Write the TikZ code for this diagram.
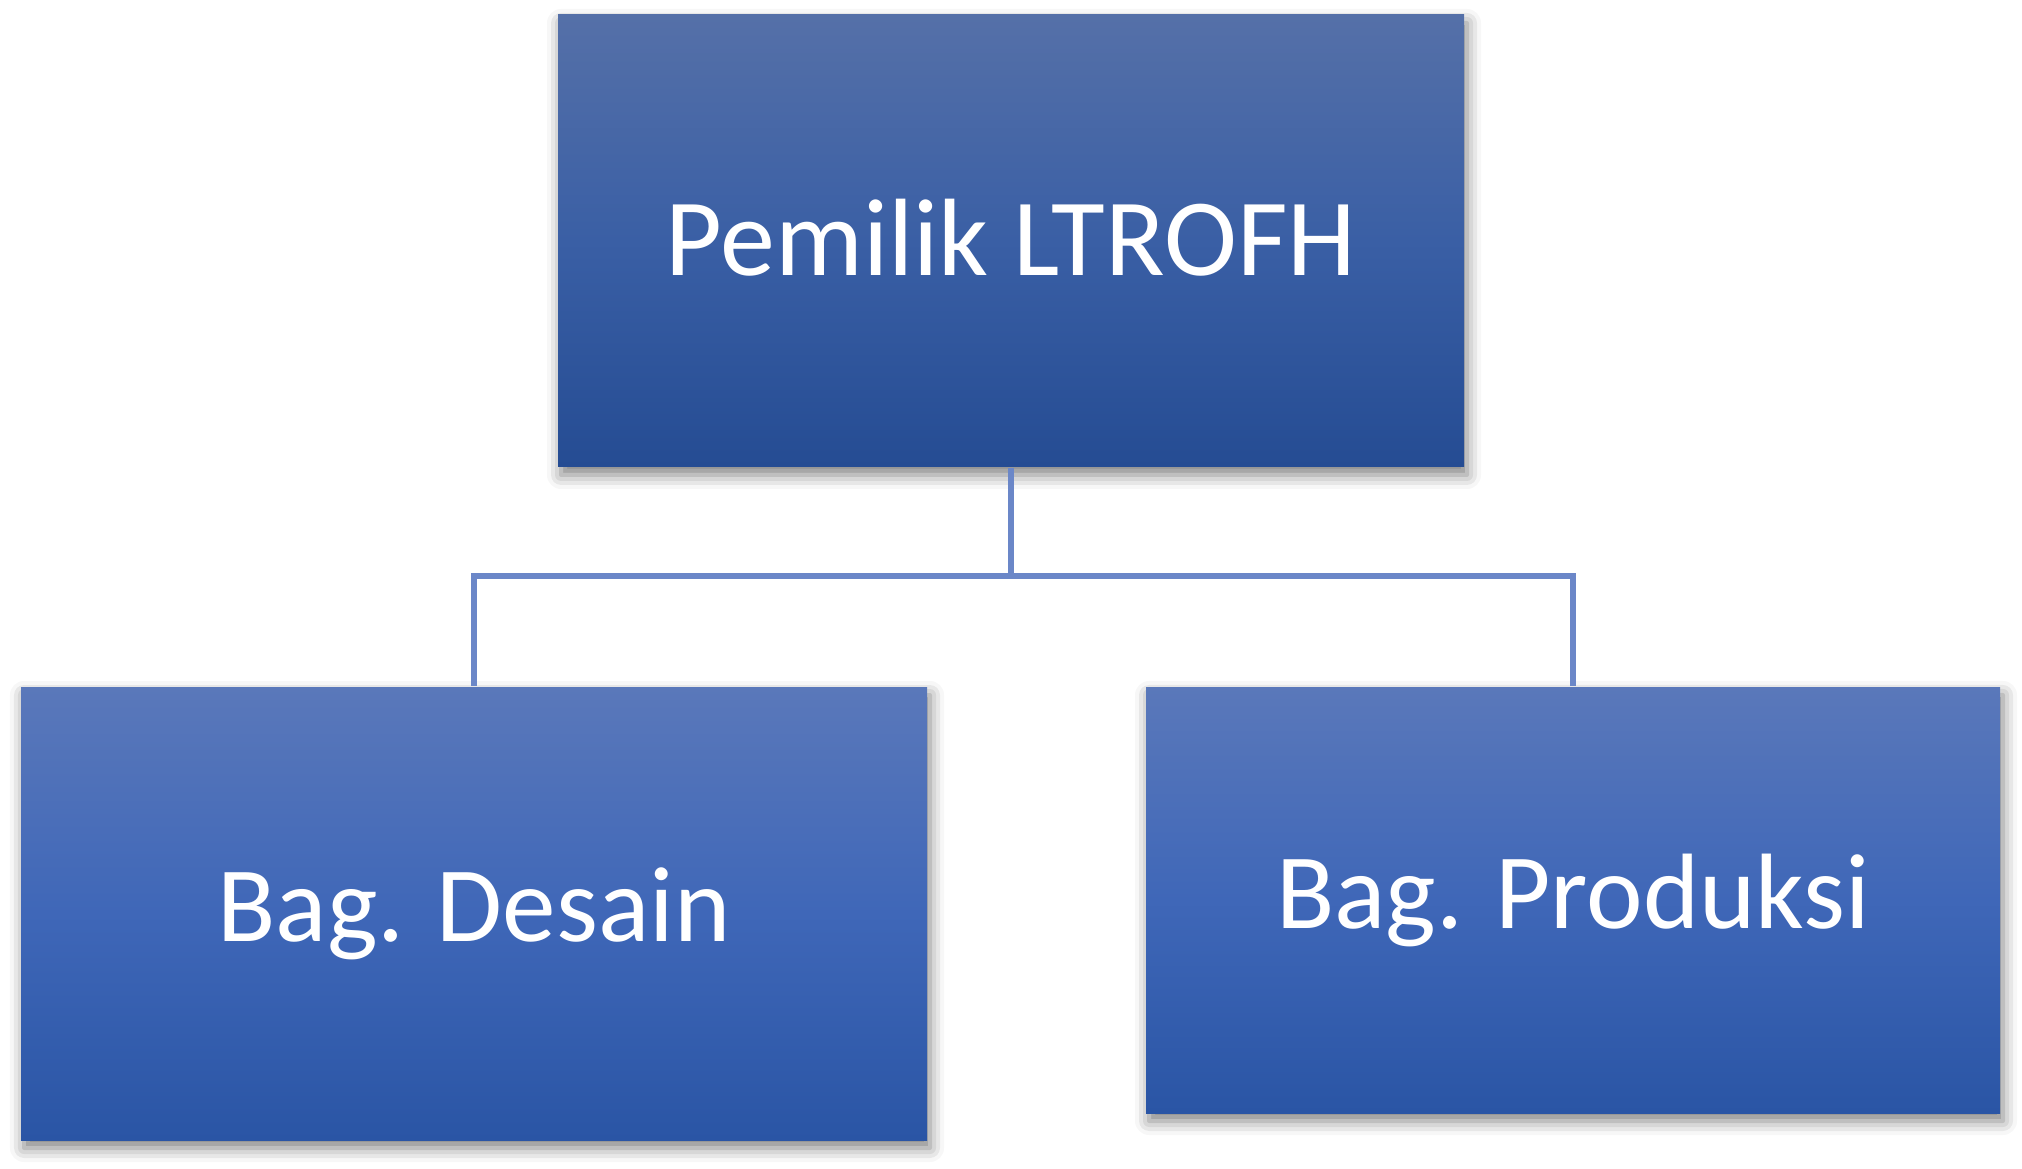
\documentclass[tikz,border=0pt]{standalone}
\usepackage{fontspec}
\setmainfont{Carlito}
\usetikzlibrary{positioning,shadows.blur}

\definecolor{topA}{HTML}{5570A8}
\definecolor{topB}{HTML}{3A5FA5}
\definecolor{topC}{HTML}{254C93}
\definecolor{subA}{HTML}{5A78BA}
\definecolor{subB}{HTML}{3F67B8}
\definecolor{subC}{HTML}{2A55A5}
\definecolor{linkblue}{HTML}{6B87C8}

\begin{document}
\begin{tikzpicture}[
  unit/.style={rectangle,inner sep=0pt,text=white,align=center,
               blur shadow={shadow xshift=0.03cm,shadow yshift=-0.08cm,
                            shadow blur radius=0.14cm,shadow opacity=50}},
  headunit/.style={unit,top color=topA,bottom color=topC,middle color=topB,
                   font=\fontsize{31.3}{37}\selectfont},
  subunit/.style={unit,top color=subA,bottom color=subC,middle color=subB,
                  font=\fontsize{30.5}{36}\selectfont},
  link/.style={draw=linkblue,line width=1.5pt},
]
\useasboundingbox (0,0) rectangle (20.22,11.68);

% Owner
\node[headunit,minimum width=9.06cm,minimum height=4.52cm] (pemilik) at (10.11,9.27) {\raisebox{0.07cm}{Pemilik LTROFH}};

% Departments
\node[subunit,minimum width=9.06cm,minimum height=4.53cm] (desain) at (4.74,2.545) {Bag. Desain};
\node[subunit,minimum width=8.54cm,minimum height=4.26cm] (produksi) at (15.73,2.68) {Bag. Produksi};

% Connectors
\coordinate (cabang) at (10.11,5.92);
\draw[link] (pemilik.south) -- (cabang) -| (desain.north);
\draw[link] (cabang) -| (produksi.north);

\end{tikzpicture}
\end{document}
